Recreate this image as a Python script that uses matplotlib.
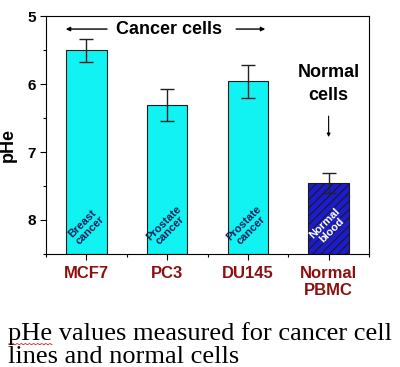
import numpy as np
import matplotlib.pyplot as plt
from matplotlib.lines import Line2D
from matplotlib.ticker import FixedLocator

# Data
cells = ['MCF7', 'PC3', 'DU145', 'Normal\nPBMC']
phe = [5.50, 6.31, 5.96, 7.46]
phe_err = [0.17, 0.24, 0.24, 0.15]
inside = ['Breast\ncancer', 'Prostate\ncancer', 'Prostate\ncancer', 'Normal\nblood']
fills = ['#11f2f2', '#11f2f2', '#11f2f2', '#1c1ccc']
hatches = ['', '', '', '////']
text_colors = ['#10205a', '#10205a', '#10205a', 'white']

plt.rcParams['font.family'] = 'Liberation Sans'
plt.rcParams['hatch.color'] = 'white'
plt.rcParams['hatch.linewidth'] = 0.8

fig = plt.figure(figsize=(4.0, 3.67), dpi=100)
ax = fig.add_axes([0.115, 0.308, 0.8075, 0.648])

x = np.arange(1, len(cells) + 1)
base = 8.5
heights = [v - base for v in phe]
bars = ax.bar(x, heights, bottom=base, width=0.5, color=fills,
              edgecolor='#1a1a1a', linewidth=0.8, zorder=2)
for b, h in zip(bars, hatches):
    b.set_hatch(h)
ax.errorbar(x, phe, yerr=phe_err, fmt='none', ecolor='#222222',
            elinewidth=1, capsize=5, capthick=1, zorder=3)

for xi, t, c in zip(x, inside, text_colors):
    ax.text(xi, 8.1, t, rotation=45, ha='center', va='center',
            fontsize=8, fontweight='bold', color=c, zorder=4,
            linespacing=1.0)

ax.set_xlim(0.5, 4.5)
ax.set_ylim(8.5, 5)
ax.set_xticks(x)
ax.set_xticklabels(cells, fontsize=12, fontweight='bold', color='#8b1010',
                   linespacing=1.15)
ax.xaxis.set_minor_locator(FixedLocator(np.arange(0.5, 4.6, 1.0)))
ax.set_yticks([5, 6, 7, 8])
ax.set_yticklabels(['5', '6', '7', '8'], fontsize=11, fontweight='bold')
ax.yaxis.set_minor_locator(FixedLocator([5.5, 6.5, 7.5, 8.5]))
ax.tick_params(which='major', direction='out', length=4, width=0.8)
ax.tick_params(which='minor', direction='out', length=2.5, width=0.8)
ax.tick_params(axis='x', pad=5)
ax.set_ylabel('pHe', fontsize=13, fontweight='bold')
ax.yaxis.set_label_coords(-0.09, 0.46)

# "Cancer cells" label with arrows
ax.text(2.02, 5.19, 'Cancer cells', ha='center', va='center',
        fontsize=13, fontweight='bold')
ax.annotate('', xy=(0.71, 5.19), xytext=(1.29, 5.19),
            arrowprops=dict(arrowstyle='-|>', color='black', lw=1,
                            mutation_scale=6))
ax.annotate('', xy=(3.25, 5.19), xytext=(2.82, 5.19),
            arrowprops=dict(arrowstyle='-|>', color='black', lw=1,
                            mutation_scale=6))

ax.text(4.0, 6.0, 'Normal\ncells', ha='center', va='center',
        fontsize=13, fontweight='bold', linespacing=1.5)
ax.annotate('', xy=(4.0, 6.82), xytext=(4.0, 6.43),
            arrowprops=dict(arrowstyle='-|>', color='black', lw=0.8,
                            mutation_scale=5))

fig.text(0.02, 0.074, 'pHe values measured for cancer cell',
         family='Liberation Serif', fontsize=19, ha='left', va='baseline')
fig.text(0.02, 0.012, 'lines and normal cells',
         family='Liberation Serif', fontsize=19, ha='left', va='baseline')

# red spell-check squiggle under "pHe" in the caption
sx = np.linspace(9, 52, 22) / 400
sy = (367 - 343.5 - np.tile([0, 1.2], 11)) / 367
fig.add_artist(Line2D(sx, sy, transform=fig.transFigure, color='#d02020',
                      lw=0.6))

fig.savefig('out.png', dpi=100)
